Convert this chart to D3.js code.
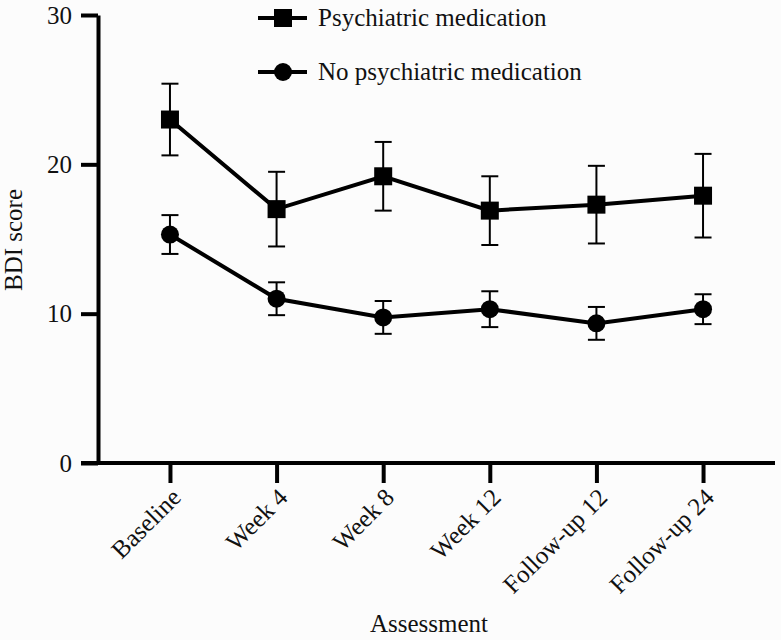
<!DOCTYPE html>
<html><head><meta charset="utf-8">
<script src="https://cdn.jsdelivr.net/npm/d3@7"></script>
<style>
html,body{margin:0;padding:0;background:#fcfcfc;}
svg{display:block;font-family:"Liberation Serif","DejaVu Serif",serif;}
</style></head>
<body>
<script>
const categories = ["Baseline","Week 4","Week 8","Week 12","Follow-up 12","Follow-up 24"];
const medMean = [23.0, 17.0, 19.2, 16.9, 17.3, 17.9];
const medErr  = [2.4, 2.5, 2.3, 2.3, 2.6, 2.8];
const noMedMean = [15.3, 11.0, 9.75, 10.3, 9.35, 10.3];
const noMedErr  = [1.3, 1.1, 1.1, 1.2, 1.1, 1.0];
const yTicks = [0, 10, 20, 30];
const seriesNames = ["Psychiatric medication","No psychiatric medication"];

const W = 781, H = 640;
const FS = 25;
const svg = d3.select("body").append("svg").attr("width", W).attr("height", H);

const x = d3.scalePoint().domain(categories).range([98, 775]).padding(0.675);
const y = d3.scaleLinear().domain([0, 30]).range([463, 15]);

// y axis
const yAxis = svg.append("g").attr("transform","translate(98,0)")
  .call(d3.axisLeft(y).tickValues(yTicks).tickSize(17).tickPadding(9).tickSizeOuter(0));
yAxis.select(".domain").attr("stroke","#000").attr("stroke-width",4);
yAxis.selectAll(".tick line").attr("stroke","#000").attr("stroke-width",4);
yAxis.selectAll(".tick text").attr("font-size",FS).attr("fill","#111")
  .attr("font-family","Liberation Serif, serif");

// x axis
const xAxis = svg.append("g").attr("transform","translate(0,463)")
  .call(d3.axisBottom(x).tickSize(20).tickSizeOuter(0));
xAxis.select(".domain").attr("d","M81,0H775").attr("stroke","#000").attr("stroke-width",4);
xAxis.selectAll(".tick line").attr("stroke","#000").attr("stroke-width",4);
xAxis.selectAll(".tick text").attr("font-size",FS).attr("fill","#111")
  .attr("font-family","Liberation Serif, serif")
  .attr("text-anchor","end").attr("dy",null).attr("y",null)
  .attr("transform","translate(12,36) rotate(-45)");

// axis titles
svg.append("text").attr("x",429).attr("y",632).attr("text-anchor","middle")
  .attr("font-size",FS).attr("fill","#111").text("Assessment");
svg.append("text").attr("transform","translate(22,240) rotate(-90)").attr("text-anchor","middle")
  .attr("font-size",FS).attr("fill","#111").text("BDI score");

const series = [
  {name: seriesNames[0], mean: medMean, err: medErr, shape: "square"},
  {name: seriesNames[1], mean: noMedMean, err: noMedErr, shape: "circle"}
];

const line = d3.line().x((d,i)=>x(categories[i])).y(d=>y(d));
const cap = 8.5;

series.forEach(s=>{
  const g = svg.append("g");
  s.mean.forEach((m,i)=>{
    const cx = x(categories[i]);
    const top = y(m + s.err[i]), bot = y(m - s.err[i]);
    g.append("line").attr("x1",cx).attr("x2",cx).attr("y1",top).attr("y2",bot)
      .attr("stroke","#000").attr("stroke-width",2);
    g.append("line").attr("x1",cx-cap).attr("x2",cx+cap).attr("y1",top).attr("y2",top)
      .attr("stroke","#000").attr("stroke-width",2);
    g.append("line").attr("x1",cx-cap).attr("x2",cx+cap).attr("y1",bot).attr("y2",bot)
      .attr("stroke","#000").attr("stroke-width",2);
  });
  g.append("path").datum(s.mean).attr("d",line).attr("fill","none")
    .attr("stroke","#000").attr("stroke-width",4);
  s.mean.forEach((m,i)=>{
    const cx = x(categories[i]), cy = y(m);
    if (s.shape==="square") {
      g.append("rect").attr("x",cx-9).attr("y",cy-9).attr("width",18).attr("height",18).attr("fill","#000");
    } else {
      g.append("circle").attr("cx",cx).attr("cy",cy).attr("r",9).attr("fill","#000");
    }
  });
});

// legend
const legY = [18, 72];
series.forEach((s,i)=>{
  const g = svg.append("g").attr("transform",`translate(0,${legY[i]})`);
  g.append("line").attr("x1",258).attr("x2",307).attr("y1",0).attr("y2",0)
    .attr("stroke","#000").attr("stroke-width",4);
  if (s.shape==="square") g.append("rect").attr("x",274).attr("y",-9).attr("width",18).attr("height",18).attr("fill","#000");
  else g.append("circle").attr("cx",283).attr("cy",0).attr("r",9).attr("fill","#000");
  g.append("text").attr("x",318).attr("y",8).attr("font-size",FS).attr("fill","#111").text(s.name);
});
</script>
</body></html>
